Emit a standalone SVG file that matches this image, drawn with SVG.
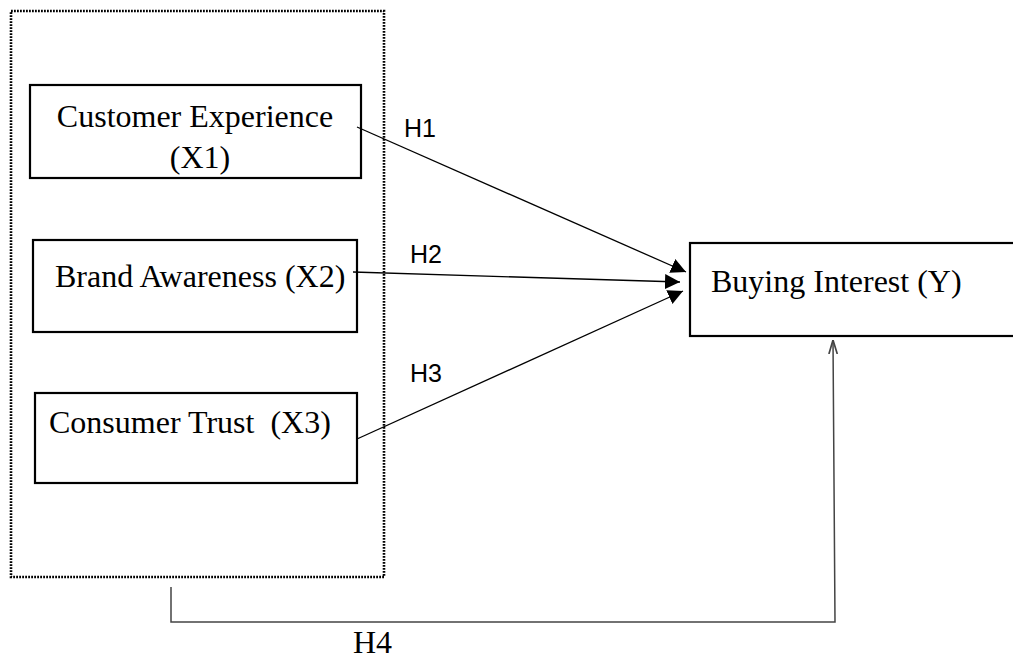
<svg xmlns="http://www.w3.org/2000/svg" width="1013" height="660" viewBox="0 0 1013 660">
<style>
.box{fill:#fff;stroke:#000;stroke-width:2.2}
.serif{font-family:"Liberation Serif","Times New Roman",serif;font-size:32px;fill:#000}
.sans{font-family:"Liberation Sans",Arial,sans-serif;font-size:25px;fill:#000}
.conn{fill:none;stroke:#000;stroke-width:1.3}
.h4{fill:none;stroke:#444;stroke-width:1.5}
</style>
<defs>
<marker id="tri" viewBox="0 0 10 10" refX="10" refY="5" markerWidth="15" markerHeight="15" markerUnits="userSpaceOnUse" orient="auto">
<path d="M0,0 L10,5 L0,10 Z" fill="#000"/>
</marker>
<marker id="open" viewBox="0 0 10 10" refX="10" refY="5" markerWidth="14" markerHeight="14" markerUnits="userSpaceOnUse" orient="auto">
<path d="M0,2 L10,5 L0,8" fill="none" stroke="#444" stroke-width="1.2"/>
</marker>
</defs>
<rect width="1013" height="660" fill="#fff"/>
<g id="group-x">
<rect x="11" y="11" width="373" height="566" fill="none" stroke="#000" stroke-width="2.6" stroke-dasharray="1.8 1.2"/>
</g>
<g id="node-x1">
<rect class="box" x="30" y="85" width="331" height="93"/>
<text class="serif" x="195" y="127" text-anchor="middle">Customer Experience</text>
<text class="serif" x="200" y="168" text-anchor="middle">(X1)</text>
</g>
<g id="node-x2">
<rect class="box" x="33" y="240" width="324" height="92"/>
<text class="serif" x="55" y="287">Brand Awareness (X2)</text>
</g>
<g id="node-x3">
<rect class="box" x="35" y="393" width="322" height="90"/>
<text class="serif" x="49" y="433">Consumer Trust&#160; (X3)</text>
</g>
<g id="node-y">
<rect class="box" x="690" y="243" width="330" height="93"/>
<text class="serif" x="711" y="292">Buying Interest (Y)</text>
</g>
<g id="connectors">
<line class="conn" x1="357" y1="127" x2="686" y2="272" marker-end="url(#tri)"/>
<line class="conn" x1="353" y1="272" x2="680" y2="282" marker-end="url(#tri)"/>
<line class="conn" x1="357" y1="439" x2="683" y2="291" marker-end="url(#tri)"/>
<polyline class="h4" points="171,587 171,622 835,622 833,340" marker-end="url(#open)"/>
</g>
<g id="labels">
<text class="sans" x="404" y="137">H1</text>
<text class="sans" x="410" y="263">H2</text>
<text class="sans" x="410" y="382">H3</text>
<text class="serif" x="353" y="653">H4</text>
</g>
</svg>
